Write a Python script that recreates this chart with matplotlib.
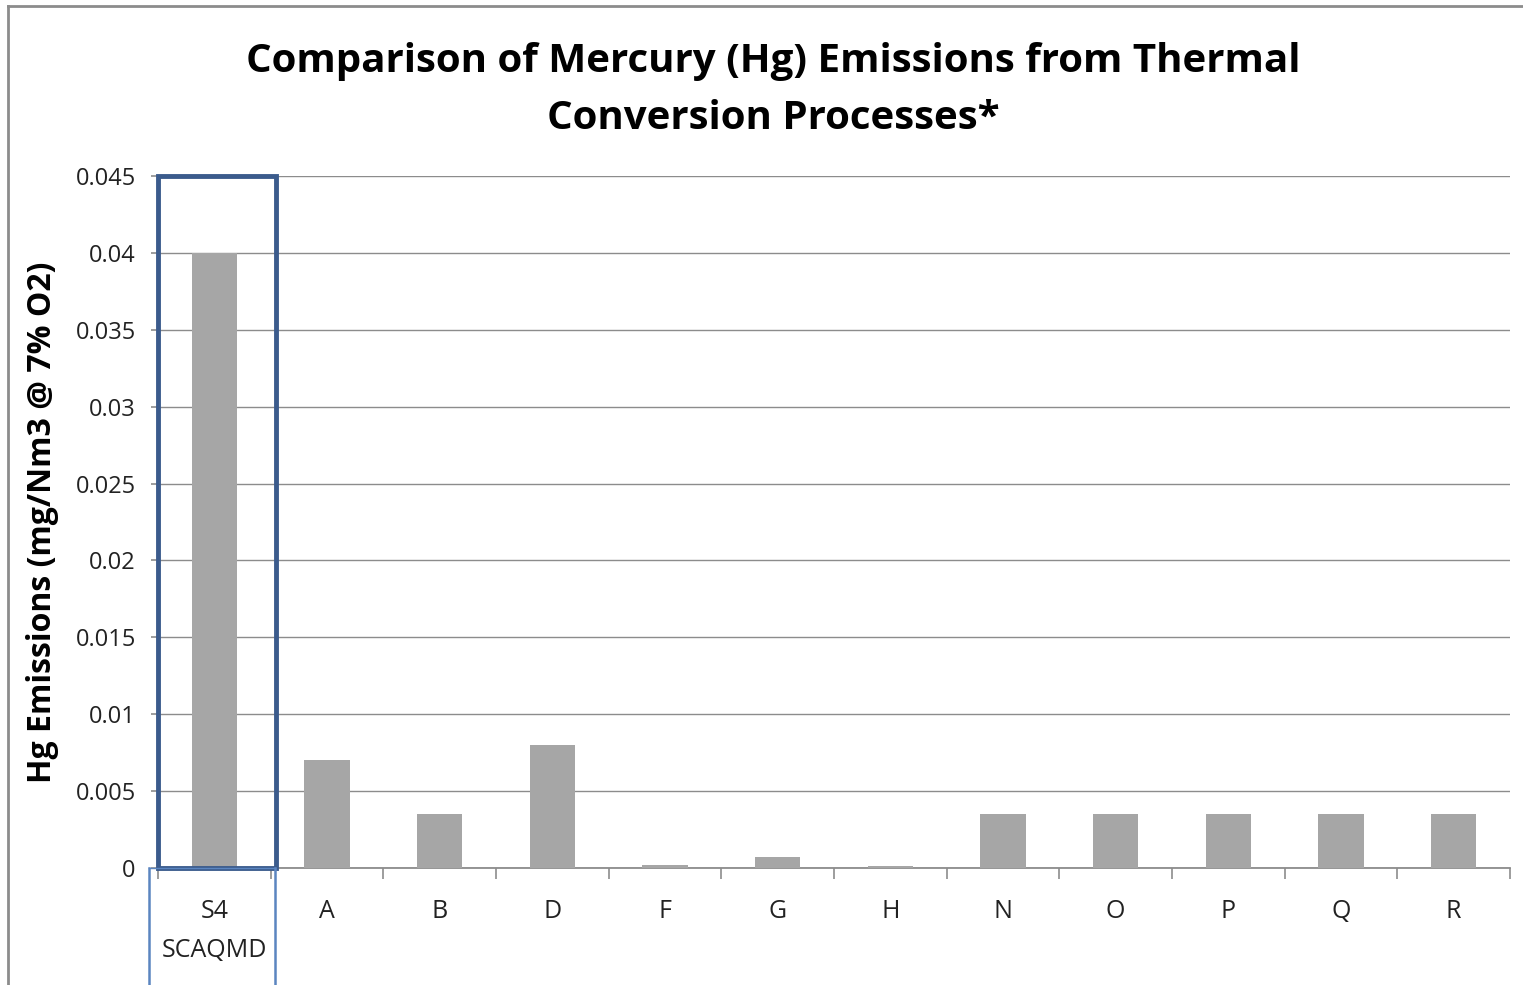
import matplotlib
matplotlib.use("Agg")
import matplotlib.pyplot as plt
from matplotlib.patches import Rectangle
from matplotlib.lines import Line2D
import numpy as np

categories = ["S4\nSCAQMD", "A", "B", "D", "F", "G", "H", "N", "O", "P", "Q", "R"]
values = [0.04, 0.007, 0.0035, 0.008, 0.0002, 0.0007, 0.0001, 0.0035, 0.0035, 0.0035, 0.0035, 0.0035]
yticks = [0, 0.005, 0.01, 0.015, 0.02, 0.025, 0.03, 0.035, 0.04, 0.045]
ytick_labels = ["0", "0.005", "0.01", "0.015", "0.02", "0.025", "0.03", "0.035", "0.04", "0.045"]

W, H = 1523, 985
fig = plt.figure(figsize=(W/100, H/100), dpi=100)
fam = ["Open Sans", "DejaVu Sans"]

ax = fig.add_axes([158/W, 1-868/H, (1510-158)/W, (868-176)/H])
x = np.arange(len(categories))
ax.bar(x, values, width=0.4, color="#A6A6A6", zorder=3)
ax.set_xlim(-0.5, len(categories)-0.5)
ax.set_ylim(0, 0.045)
ax.set_yticks(yticks)
ax.set_yticklabels(ytick_labels, fontsize=17, family=fam, color="#222222")
ax.set_xticks(x)
ax.set_xticklabels(categories, fontsize=18, family=fam, color="#222222", linespacing=1.75)
ax.tick_params(axis="x", length=0, pad=22)
ax.set_xticks(np.arange(len(categories)+1)-0.5, minor=True)
ax.tick_params(axis="x", which="minor", length=8, color="#8C8C8C", width=1.2)
ax.tick_params(axis="y", length=5, color="#8C8C8C", width=1.2, pad=11)
ax.grid(axis="y", color="#8C8C8C", linewidth=1.0, zorder=0)
for s in ["top", "right"]:
    ax.spines[s].set_visible(False)
for s in ["left", "bottom"]:
    ax.spines[s].set_color("#8C8C8C")
    ax.spines[s].set_linewidth(1.3)

ax.set_ylabel("Hg Emissions (mg/Nm3 @ 7% O2)", fontsize=23, fontweight="bold", family=fam, labelpad=12)

fig.text(0.5 + 12/W, 1-90/H, "Comparison of Mercury (Hg) Emissions from Thermal\nConversion Processes*",
         ha="center", va="center", fontsize=29, fontweight="bold", family=fam, linespacing=1.62)

# highlight box around first category
ax.add_patch(Rectangle((-0.5, 0), 1.05, 0.045, fill=False, edgecolor="#3B5B8C", linewidth=3.5,
                       zorder=5, clip_on=False))
# thin lines below the axis
fig.add_artist(Line2D([149/W, 149/W], [0, 1-868/H], color="#5B85C0", linewidth=1.8))
fig.add_artist(Line2D([275/W, 275/W], [0, 1-868/H], color="#5B85C0", linewidth=1.8))
fig.add_artist(Line2D([149/W, 275/W], [1-868/H, 1-868/H], color="#5B85C0", linewidth=1.0))

# figure frame
fig.add_artist(Line2D([8/W, 8/W], [0, 1-6/H], color="#8C8C8C", linewidth=2))
fig.add_artist(Line2D([8/W, 1], [1-6/H, 1-6/H], color="#8C8C8C", linewidth=2))

fig.savefig("out.png", dpi=100)
